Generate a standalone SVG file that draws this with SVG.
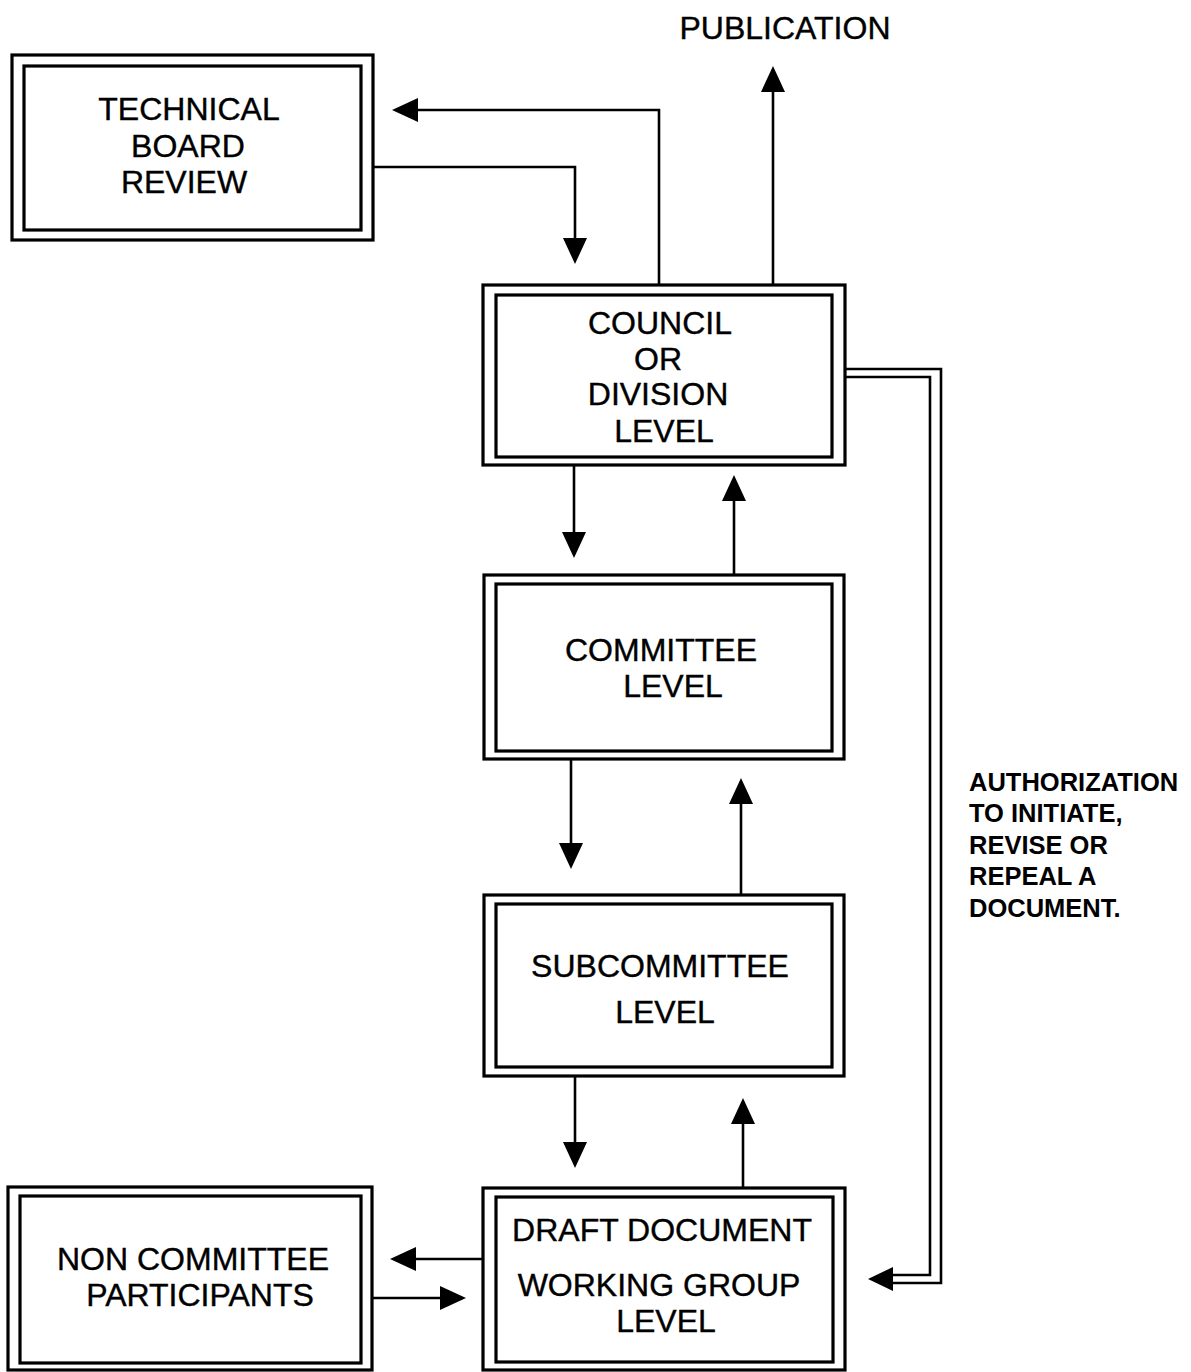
<svg xmlns="http://www.w3.org/2000/svg" width="1191" height="1372" viewBox="0 0 1191 1372">
<style>
.o{fill:#fff;stroke:#000;stroke-width:3.2}
.i{fill:none;stroke:#000;stroke-width:3.2}
.t{font-family:"Liberation Sans",Arial,sans-serif;font-size:32px;fill:#000;stroke:#000;stroke-width:0.4;text-anchor:middle}
.a{font-family:"Liberation Sans",Arial,sans-serif;font-size:25.5px;font-weight:bold;fill:#000}
.c{fill:none;stroke:#000;stroke-width:2.6}
</style>
<defs>
<marker id="ah" viewBox="0 0 26 24" refX="0" refY="12" markerWidth="26" markerHeight="24" orient="auto" markerUnits="userSpaceOnUse">
<path d="M0,0 L26,12 L0,24 z" fill="#000"/>
</marker>
</defs>
<rect width="1191" height="1372" fill="#fff"/>
<g id="connectors">
<path class="c" d="M659,285 V110 H418" marker-end="url(#ah)"/>
<path class="c" d="M374,167 H575 V238" marker-end="url(#ah)"/>
<path class="c" d="M773,285 V92" marker-end="url(#ah)"/>
<path class="c" d="M574,465 V532" marker-end="url(#ah)"/>
<path class="c" d="M734,575 V501" marker-end="url(#ah)"/>
<path class="c" d="M571,760 V843" marker-end="url(#ah)"/>
<path class="c" d="M741,895 V804" marker-end="url(#ah)"/>
<path class="c" d="M575,1077 V1142" marker-end="url(#ah)"/>
<path class="c" d="M743,1188 V1124" marker-end="url(#ah)"/>
<path class="c" d="M483,1259 H416" marker-end="url(#ah)"/>
<path class="c" d="M372,1298 H440" marker-end="url(#ah)"/>
<path class="c" d="M845,369 H941 V1283 H890"/>
<path class="c" d="M845,377 H930 V1275 H890"/>
<polygon points="868,1279 893,1267 893,1291" fill="#000"/>
</g>
<g id="technical-board">
<rect class="o" x="12" y="55" width="361" height="185"/>
<rect class="i" x="24" y="66" width="337" height="164"/>
<text class="t" x="189" y="120">TECHNICAL</text>
<text class="t" x="188" y="157">BOARD</text>
<text class="t" x="184" y="193">REVIEW</text>
</g>
<g id="publication">
<text class="t" x="785" y="39">PUBLICATION</text>
</g>
<g id="council">
<rect class="o" x="483" y="285" width="362" height="180"/>
<rect class="i" x="496" y="295" width="336" height="162"/>
<text class="t" x="660" y="334">COUNCIL</text>
<text class="t" x="658" y="370">OR</text>
<text class="t" x="658" y="405">DIVISION</text>
<text class="t" x="664" y="442">LEVEL</text>
</g>
<g id="committee">
<rect class="o" x="484" y="575" width="360" height="184"/>
<rect class="i" x="496" y="584" width="336" height="167"/>
<text class="t" x="661" y="661">COMMITTEE</text>
<text class="t" x="673" y="697">LEVEL</text>
</g>
<g id="subcommittee">
<rect class="o" x="484" y="895" width="360" height="181"/>
<rect class="i" x="496" y="904" width="336" height="163"/>
<text class="t" x="660" y="977">SUBCOMMITTEE</text>
<text class="t" x="665" y="1023">LEVEL</text>
</g>
<g id="working-group">
<rect class="o" x="483" y="1188" width="362" height="182"/>
<rect class="i" x="496" y="1197" width="337" height="165"/>
<text class="t" x="662" y="1241">DRAFT DOCUMENT</text>
<text class="t" x="659" y="1296">WORKING GROUP</text>
<text class="t" x="666" y="1332">LEVEL</text>
</g>
<g id="non-committee">
<rect class="o" x="8" y="1187" width="364" height="183"/>
<rect class="i" x="20" y="1196" width="341" height="167"/>
<text class="t" x="193" y="1270">NON COMMITTEE</text>
<text class="t" x="200" y="1306">PARTICIPANTS</text>
</g>
<g id="authorization-label">
<text class="a" x="969" y="791">AUTHORIZATION</text>
<text class="a" x="969" y="822">TO INITIATE,</text>
<text class="a" x="969" y="854">REVISE OR</text>
<text class="a" x="969" y="885">REPEAL A</text>
<text class="a" x="969" y="917">DOCUMENT.</text>
</g>
</svg>
